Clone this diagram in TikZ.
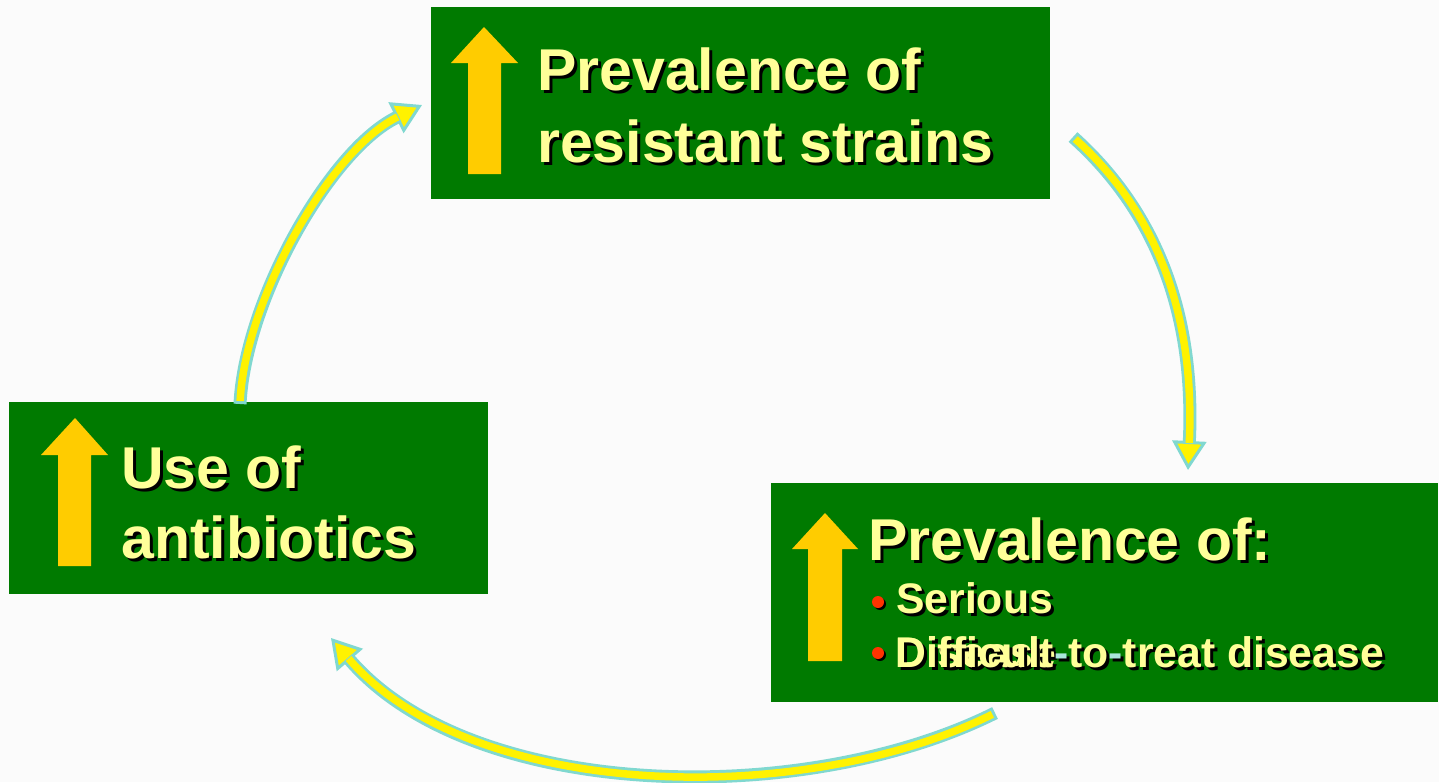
\documentclass[tikz,border=0pt]{standalone}
\usepackage{fontspec}
\setmainfont{Liberation Sans}
\usetikzlibrary{arrows.meta}
\definecolor{boxgreen}{RGB}{0,122,0}
\definecolor{gold}{RGB}{255,204,0}
\definecolor{txtc}{RGB}{255,255,153}
\definecolor{hyc}{RGB}{170,230,220}
\definecolor{rim}{RGB}{128,216,208}
\definecolor{bul}{RGB}{255,51,0}
\definecolor{bgc}{RGB}{251,251,251}
\newcommand\hy{\textcolor{hyc}{-}}
\newcommand\shtext[4]{%
  \node[#3, text=black, xshift=3pt, yshift=-3pt] at #2 {\renewcommand\hy{-}#4};
  \node[#3] (#1) at #2 {#4};}
\tikzset{
  box/.style={fill=boxgreen, draw=none, anchor=north west, inner sep=0pt},
  big/.style={anchor=base west, inner sep=0pt, text=txtc, font=\fontsize{59}{70}\selectfont\bfseries},
  small/.style={anchor=base west, inner sep=0pt, text=txtc, font=\fontsize{42.7}{50}\selectfont\bfseries},
  uparrow/.style={fill=gold},
  conn/.style={draw=rim, line width=13pt, -{Triangle[length=29pt 0 0,width=34pt 0 0,line width=3pt 0 0,fill=yellow]}},
  connin/.style={draw=yellow, line width=7.5pt, shorten >=27pt, shorten <=3pt},
}
\begin{document}
\begin{tikzpicture}[x=1pt,y=-1pt]
\useasboundingbox[fill=bgc] (0,0) rectangle (1439,782);
% boxes
\node[box, minimum width=619pt, minimum height=192pt] (topbox) at (431,7) {};
\node[box, minimum width=479pt, minimum height=192pt] (leftbox) at (9,402) {};
\node[box, minimum width=667pt, minimum height=219pt] (rightbox) at (771,483) {};
% gold up arrows
\fill[uparrow] (484,27) -- (518,63) -- (501,63) -- (501,174) -- (468,174) -- (468,63) -- (451,63) -- cycle;
\fill[uparrow] (75,418) -- (108,455) -- (91,455) -- (91,566) -- (58,566) -- (58,455) -- (41,455) -- cycle;
\fill[uparrow] (825,513) -- (858,549) -- (842,549) -- (842,661) -- (808,661) -- (808,549) -- (792,549) -- cycle;
% texts
\shtext{t1}{(537,90)}{big}{Prevalence of}
\shtext{t2}{(537,162)}{big}{resistant strains}
\shtext{l1}{(121,488)}{big}{Use of}
\shtext{l2}{(121,558)}{big}{antibiotics}
\shtext{r1}{(868,560)}{big}{Prevalence of:}
% bullets
\fill[black] (880,604) circle (6);
\fill[bul] (878,602) circle (6);
\fill[black] (880,655) circle (6);
\fill[bul] (878,653) circle (6);
\shtext{r2}{(896,613)}{small}{Serious}
\shtext{r3}{(895,667)}{small}{Disease}
\shtext{r4}{(895,667)}{small}{Difficult\hy to\hy treat disease}
% connectors
\coordinate (aS) at (240,404); \coordinate (aE) at (422,105);
\coordinate (bS) at (1073,137); \coordinate (bE) at (1188,470);
\coordinate (cS) at (995,713); \coordinate (cE) at (331,638);
\draw[conn] (aS) .. controls (245,300) and (330,150) .. (aE);
\draw[connin] (aS) .. controls (245,300) and (330,150) .. (aE);
\draw[conn] (bS) .. controls (1160,215) and (1195,320) .. (bE);
\draw[connin] (bS) .. controls (1160,215) and (1195,320) .. (bE);
\draw[conn] (cS) .. controls (800,810) and (470,800) .. (cE);
\draw[connin] (cS) .. controls (800,810) and (470,800) .. (cE);
\end{tikzpicture}
\end{document}
